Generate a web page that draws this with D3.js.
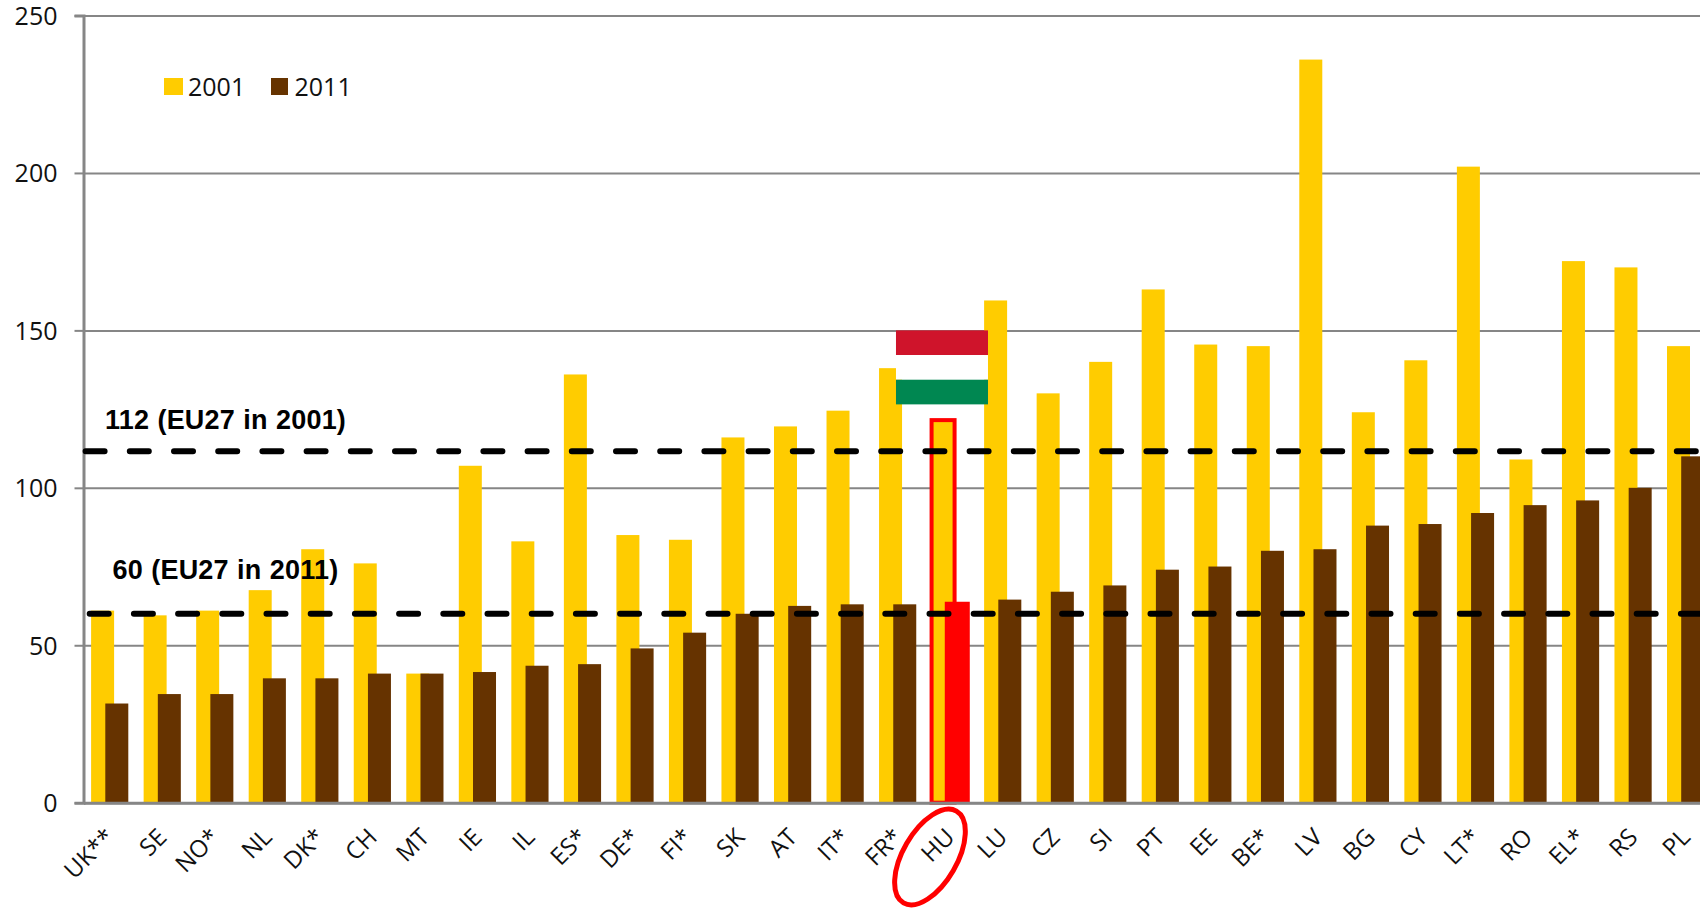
<!DOCTYPE html>
<html>

<head>
    <meta charset="UTF-8">
    <title>2001 vs 2011</title>
    <script src="https://d3js.org/d3.v7.min.js"></script>
    <style>
        body { margin: 0; background: #fff; overflow: hidden; }
        text { font-family: "Open Sans", sans-serif; fill: #111; }
    </style>
</head>

<body>
    <script>
        var categories = ["UK**", "SE", "NO*", "NL", "DK*", "CH", "MT", "IE", "IL", "ES*", "DE*", "FI*", "SK", "AT", "IT*", "FR*",
            "HU", "LU", "CZ", "SI", "PT", "EE", "BE*", "LV", "BG", "CY", "LT*", "RO", "EL*", "RS", "PL"];
        var values2001 = [61, 59.5, 61, 67.5, 80.5, 76, 41, 107, 83, 136, 85, 83.5, 116, 119.5, 124.5, 138,
            121.5, 159.5, 130, 140, 163, 145.5, 145, 236, 124, 140.5, 202, 109, 172, 170, 145];
        var values2011 = [31.5, 34.5, 34.5, 39.5, 39.5, 41, 41, 41.5, 43.5, 44, 49, 54, 60, 62.5, 63, 63,
            63.5, 64.5, 67, 69, 74, 75, 80, 80.5, 88, 88.5, 92, 94.5, 96, 100, 110];
        var yTicks = [0, 50, 100, 150, 200, 250];
        var refLines = [{ value: 111.6, label: "112 (EU27 in 2001)" }, { value: 60, label: "60 (EU27 in 2011)" }];
        var highlight = "HU";

        var width = 1700, height = 908;
        var left = 83.5, top0 = 15.5, bottom = 802.7;
        var step = 52.53;

        var svg = d3.select("body").append("svg")
            .attr("width", width)
            .attr("height", height)
            .style("display", "block");

        // x runs past the right edge, the last bar is cut off like in the original
        var x = d3.scaleBand()
            .domain(categories)
            .range([left, left + step * categories.length]);

        var y = d3.scaleLinear()
            .domain([0, 250])
            .range([bottom, top0]);

        var barW = 23, barShift = 14.2, pad = 7.6;
        var grey = "#868686";

        // grid lines
        svg.append("g")
            .attr("transform", "translate(" + left + ",0)")
            .call(d3.axisLeft(y).tickValues(yTicks).tickSize(-(width - left)).tickFormat(""))
            .call(function (g) { g.select(".domain").remove(); })
            .selectAll("line").attr("stroke", grey).attr("stroke-width", 2);

        // 2001 bars
        svg.append("g").selectAll("rect")
            .data(categories)
            .join("rect")
            .attr("x", function (d) { return x(d) + pad; })
            .attr("y", function (d, i) { return y(values2001[i]); })
            .attr("width", barW)
            .attr("height", function (d, i) { return bottom - y(values2001[i]); })
            .attr("fill", "#ffcc00")
            .attr("stroke", function (d) { return d == highlight ? "#ff0000" : "none"; })
            .attr("stroke-width", 4);

        // 2011 bars
        svg.append("g").selectAll("rect")
            .data(categories)
            .join("rect")
            .attr("x", function (d) { return x(d) + pad + barShift; })
            .attr("y", function (d, i) { return y(values2011[i]); })
            .attr("width", barW)
            .attr("height", function (d, i) { return bottom - y(values2011[i]); })
            .attr("fill", function (d) { return d == highlight ? "#ff0000" : "#663300"; })
            .attr("stroke", function (d) { return d == highlight ? "#ff0000" : "none"; })
            .attr("stroke-width", 2);

        // left axis
        var yAxis = svg.append("g")
            .attr("transform", "translate(" + left + ",0)")
            .call(d3.axisLeft(y).tickValues(yTicks).tickSize(9).tickPadding(17));
        yAxis.select(".domain").attr("stroke", grey).attr("stroke-width", 3);
        yAxis.selectAll("line").attr("stroke", grey).attr("stroke-width", 2);
        yAxis.selectAll("text").style("font-size", "25px").attr("dy", "9px");

        // bottom axis
        var xAxis = svg.append("g")
            .attr("transform", "translate(0," + bottom + ")")
            .call(d3.axisBottom(x).tickSize(0).tickSizeOuter(0));
        xAxis.select(".domain").attr("stroke", grey).attr("stroke-width", 3);
        xAxis.selectAll("text")
            .style("font-size", "24px")
            .attr("text-anchor", "end")
            .attr("x", 0).attr("y", 0).attr("dy", 0)
            .attr("transform", "translate(6,36) rotate(-45)");

        // hungarian flag above the HU bars
        var flag = ["#cf142b", "#ffffff", "#008751"];
        var flagH = (y(126.5) - y(150)) / 3;
        svg.append("g").selectAll("rect")
            .data(flag)
            .join("rect")
            .attr("x", x(highlight) - 28)
            .attr("y", function (d, i) { return y(150) + i * flagH; })
            .attr("width", 92)
            .attr("height", flagH)
            .attr("fill", function (d) { return d; });

        // dashed reference lines
        svg.append("g").selectAll("line")
            .data(refLines)
            .join("line")
            .attr("x1", function (d, i) { return i == 0 ? 85.6 : 89.7; })
            .attr("x2", width)
            .attr("y1", function (d) { return y(d.value); })
            .attr("y2", function (d) { return y(d.value); })
            .attr("stroke", "#000")
            .attr("stroke-width", 6)
            .attr("stroke-linecap", "round")
            .attr("stroke-dasharray", "19 25.2");

        svg.append("g").selectAll("text")
            .data(refLines)
            .join("text")
            .attr("x", function (d, i) { return i == 0 ? 105 : 112.5; })
            .attr("y", function (d, i) { return i == 0 ? y(d.value) - 22.5 : y(d.value) - 35; })
            .text(function (d) { return d.label; })
            .style("font-family", "'Liberation Sans', Arial, sans-serif")
            .style("font-weight", "bold")
            .style("font-size", "27px")
            .style("letter-spacing", "0.2px")
            .style("word-spacing", "0.6px")
            .style("fill", "#000");

        // legend
        var legend = svg.append("g");
        [["2001", "#ffcc00", 164, 19, 188], ["2011", "#663300", 271, 17, 294.5]].forEach(function (l) {
            legend.append("rect").attr("x", l[2]).attr("y", 78).attr("width", l[3]).attr("height", 17).attr("fill", l[1]);
            legend.append("text").attr("x", l[4]).attr("y", 96).text(l[0]).style("font-size", "25px");
        });

        // circle around the HU label
        svg.append("ellipse")
            .attr("cx", x(highlight) + 6)
            .attr("cy", 857)
            .attr("rx", 27)
            .attr("ry", 53)
            .attr("transform", "rotate(30 " + (x(highlight) + 6) + " 857)")
            .attr("fill", "none")
            .attr("stroke", "#ff0000")
            .attr("stroke-width", 5);
    </script>
</body>

</html>
